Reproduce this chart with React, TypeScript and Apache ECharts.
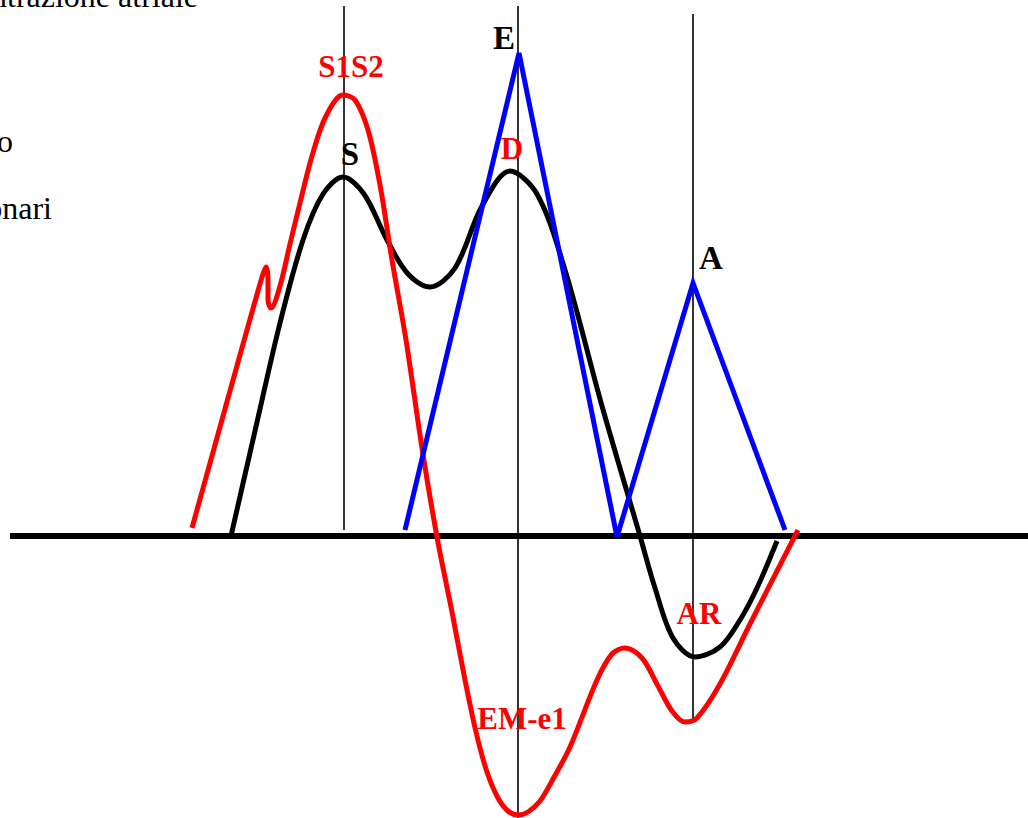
import React, { useEffect, useRef } from "react";
import * as echarts from "echarts";

// Horizontal positions and amplitudes of each trace (amplitude 0 = baseline)
const pulmonaryVeinX = [231, 255, 280, 303, 323, 343, 364, 387, 408, 430, 455, 482, 510, 537, 565, 602, 640, 655, 673, 695, 720, 740, 757, 777];
const pulmonaryVeinY = [0, 105, 213, 296, 342, 359, 342, 296, 262, 249, 268, 330, 365, 342, 266, 130, 0, -52, -102, -121, -111, -84, -52, -5];

const mitralEmX = [192, 215, 240, 256, 263, 266, 268, 268, 271, 280, 290, 300, 312, 326, 343, 355, 368, 380, 392, 406, 422, 437, 452, 465, 476, 487, 498, 508, 518, 528, 540, 553, 570, 597, 612, 625, 642, 658, 672, 685, 697, 720, 750, 798];
const mitralEmY = [8, 91, 181, 238, 262, 269, 256, 236, 228, 250, 292, 333, 380, 420, 441, 436, 406, 351, 276, 196, 88, -1, -76, -144, -196, -236, -262, -275, -279, -276, -265, -243, -211, -144, -118, -112, -122, -150, -175, -186, -182, -148, -88, 6];

const mitralFlowX = [405, 519, 617, 693, 785];
const mitralFlowY = [6, 483, -1, 253, 6];

// Timing markers: x and vertical extent
const markerX = [344, 518, 693];
const markerTop = [530, 530, 522];
const markerBottom = [6, -282, -184];

const baselineX = [10, 1028];

const waveLabels = ["S1S2", "S", "E", "D", "A", "AR", "EM-e1"];
const waveLabelColors = ["#ff0000", "#000000", "#000000", "#ff0000", "#000000", "#ff0000", "#ff0000"];
const waveLabelPos = [
  [351, 66],
  [350, 154],
  [504, 38],
  [512, 148],
  [711, 258],
  [699, 613],
  [522, 718],
];

const sideTexts = ["contrazione atriale", "o", "onari"];
const sideTextPos = [
  [198, -4],
  [13, 141],
  [52, 208],
];

const pairs = (xs: number[], ys: number[]) => xs.map((x, i) => [x, ys[i]]);

export default function App() {
  const ref = useRef<HTMLDivElement>(null);

  useEffect(() => {
    if (!ref.current) return;
    const chart = echarts.init(ref.current, null, { renderer: "svg" });

    const markerSeries = markerX.map((x, i) => ({
      type: "line",
      data: [
        [x, markerTop[i]],
        [x, markerBottom[i]],
      ],
      symbol: "none",
      lineStyle: { color: "#000", width: 1.6 },
      z: 1,
      silent: true,
    }));

    chart.setOption({
      animation: false,
      grid: { left: 0, right: 0, top: 0, bottom: 0, containLabel: false },
      xAxis: { type: "value", min: 0, max: 1028, show: false },
      yAxis: { type: "value", min: -282, max: 536, show: false },
      series: [
        ...markerSeries,
        {
          type: "line",
          data: baselineX.map((x) => [x, 0]),
          symbol: "none",
          lineStyle: { color: "#000", width: 6, cap: "butt" },
          z: 2,
        },
        {
          type: "line",
          data: pairs(pulmonaryVeinX, pulmonaryVeinY),
          smooth: 0.33,
          symbol: "none",
          lineStyle: { color: "#000", width: 5 },
          z: 3,
        },
        {
          type: "line",
          data: pairs(mitralEmX, mitralEmY),
          smooth: 0.33,
          symbol: "none",
          lineStyle: { color: "#ff0000", width: 5 },
          z: 4,
        },
        {
          type: "line",
          data: pairs(mitralFlowX, mitralFlowY),
          symbol: "none",
          lineStyle: { color: "#0000ff", width: 5, join: "miter" },
          z: 5,
        },
      ],
      graphic: [
        ...waveLabels.map((t, i) => ({
          type: "text",
          x: waveLabelPos[i][0],
          y: waveLabelPos[i][1],
          z: 10,
          style: {
            text: t,
            fill: waveLabelColors[i],
            font: `bold ${waveLabelColors[i] === "#000000" ? 33 : 31}px 'Liberation Serif', 'Times New Roman', serif`,
            textAlign: "center",
            textVerticalAlign: "middle",
          },
        })),
        ...sideTexts.map((t, i) => ({
          type: "text",
          x: sideTextPos[i][0],
          y: sideTextPos[i][1],
          z: 10,
          style: {
            text: t,
            fill: "#000",
            font: "32px 'Liberation Serif', 'Times New Roman', serif",
            textAlign: "right",
            textVerticalAlign: "middle",
          },
        })),
      ],
    });

    return () => chart.dispose();
  }, []);

  return (
    <div
      ref={ref}
      style={{ position: "absolute", left: 0, top: 0, width: 1028, height: 818 }}
    />
  );
}
